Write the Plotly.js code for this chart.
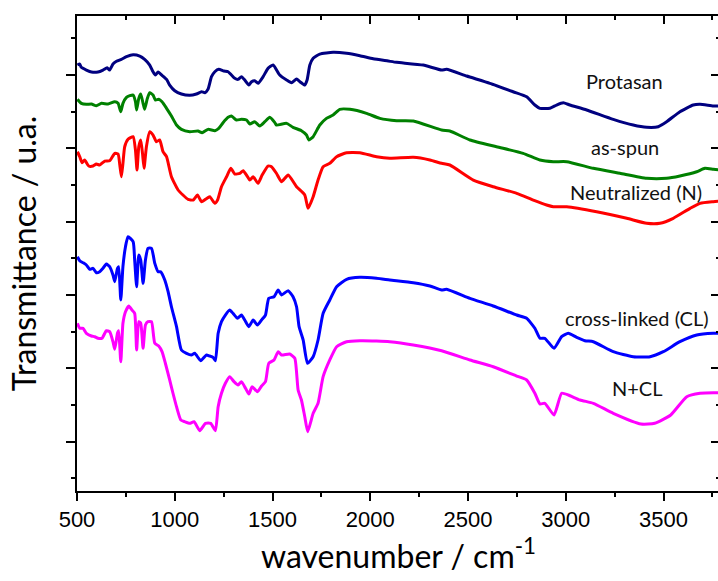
<!DOCTYPE html>
<html>
<head>
<meta charset="utf-8">
<script src="https://cdn.plot.ly/plotly-3.0.1.min.js"></script>
<style>
html,body{margin:0;padding:0;background:#fff;overflow:hidden;width:718px;height:581px;}
#chart{width:722px;height:581px;}
</style>
</head>
<body>
<div id="chart"></div>
<script>
// ---- data (wavenumber in cm^-1, transmittance in arbitrary offset units) ----
const protasanX = [502,514,522,548,574,607,633,654,667,684,702,727,753,787,821,846,872,889,901,915,935,958,974,1000,1034,1077,1111,1137,1154,1170,1188,1205,1225,1251,1273,1290,1307,1324,1341,1358,1379,1393,1409,1426,1452,1477,1503,1537,1572,1597,1623,1640,1665,1677,1691,1708,1742,1810,1879,1947,2015,2092,2135,2271,2365,2390,2493,2612,2731,2800,2842,2868,2919,2953,2987,3021,3107,3243,3345,3414,3473,3516,3584,3652,3687,3755,3789];
const protasanY = [61.36,61.5,61.05,60.68,60.41,60.41,60.68,61.0,60.68,61.5,61.87,62.14,62.5,62.77,62.59,62.14,61.36,60.45,60.0,60.41,59.96,59.41,58.63,57.86,57.41,57.23,57.41,57.72,57.59,58.05,59.77,60.45,60.78,60.54,60.45,60.0,59.55,59.41,59.77,59.32,58.63,59.09,59.22,58.87,59.77,60.91,61.36,60.0,59.32,58.95,59.45,59.09,58.63,59.32,61.36,62.28,62.86,63.09,62.96,62.63,62.22,61.91,61.73,61.36,60.68,60.78,59.86,58.87,57.72,57.04,55.91,55.46,55.46,55.91,56.22,55.91,55.23,53.96,53.18,52.87,52.95,53.63,55.0,55.91,56.0,55.77,55.77];

const asSpunX = [502,522,548,574,599,625,659,693,710,724,735,753,770,787,799,805,816,826,838,846,860,872,889,901,918,935,958,983,1009,1034,1077,1119,1140,1170,1205,1225,1247,1273,1290,1316,1341,1367,1384,1409,1435,1461,1486,1512,1520,1572,1605,1648,1674,1686,1708,1742,1776,1810,1844,1896,1981,2049,2135,2220,2365,2407,2510,2646,2782,2868,2936,3005,3141,3277,3414,3516,3584,3670,3712,3755,3789];
const asSpunY = [56.69,56.14,56.0,56.05,55.81,56.14,56.05,56.36,56.14,55.0,56.14,56.96,57.18,57.27,56.36,55.23,56.82,57.41,56.14,55.32,56.82,57.59,57.27,56.59,56.69,56.36,55.46,54.41,53.18,52.59,52.27,52.36,52.13,52.59,52.41,52.73,53.5,54.23,54.41,53.86,53.96,53.86,53.32,53.63,53.05,53.63,54.23,53.5,53.18,53.41,52.87,52.41,51.82,51.14,51.59,53.18,54.09,54.55,55.32,55.32,54.77,54.09,53.77,53.73,52.5,52.36,51.14,50.22,49.32,48.41,48.18,48.18,47.28,46.6,45.91,45.91,46.23,46.81,47.28,47.14,47.05];

const neutralX = [502,514,526,539,560,582,599,616,642,667,693,710,719,727,735,744,761,787,799,807,816,826,835,843,855,872,889,906,923,940,958,983,1017,1042,1068,1094,1116,1137,1157,1179,1205,1219,1239,1265,1287,1307,1333,1350,1367,1384,1401,1426,1447,1477,1495,1520,1546,1580,1623,1665,1682,1708,1733,1759,1793,1828,1879,1947,2032,2100,2220,2305,2365,2407,2527,2629,2749,2834,2902,2936,3005,3158,3312,3414,3482,3550,3636,3687,3755,3789];
const neutralY = [49.54,48.86,48.04,48.41,47.59,47.59,47.86,47.73,48.27,48.31,49.32,49.23,47.73,46.13,47.96,50.22,51.23,51.59,49.77,47.05,50.22,51.14,49.32,47.28,50.22,52.27,51.82,50.9,51.14,49.54,48.86,46.13,44.32,43.64,43.05,42.95,43.64,42.72,43.05,43.4,42.5,42.95,44.77,46.13,47.28,46.5,46.6,46.95,46.36,45.68,46.13,45.23,46.36,47.59,47.5,46.6,45.45,46.36,44.77,43.64,41.82,43.4,45.68,47.5,47.96,48.86,49.4,49.4,48.86,48.64,48.77,48.41,47.96,47.73,45.68,44.77,43.87,42.95,42.27,42.04,42.04,41.36,40.46,39.78,39.78,40.46,41.82,42.5,42.72,42.8];

const crossX = [502,514,531,548,565,582,599,616,633,650,667,684,693,707,713,724,735,748,761,787,795,805,816,826,838,850,863,881,898,915,928,949,966,983,1009,1034,1060,1085,1102,1133,1162,1179,1196,1208,1222,1239,1259,1281,1298,1321,1341,1358,1379,1401,1423,1444,1464,1481,1508,1529,1546,1580,1605,1623,1636,1657,1679,1708,1733,1759,1793,1828,1879,1947,2032,2100,2220,2305,2365,2390,2510,2629,2749,2800,2842,2868,2893,2940,2979,3013,3056,3098,3141,3243,3345,3431,3499,3584,3670,3755,3789];
const crossY = [35.22,34.68,34.4,34.09,33.5,33.64,33.04,33.18,33.64,34.23,33.86,32.73,31.81,33.64,33.86,29.32,33.86,36.59,37.95,37.27,34.77,31.13,35.45,34.77,31.59,34.77,36.37,36.37,34.32,33.18,33.18,32.05,30.45,28.4,25.68,22.5,22.05,21.82,22.05,21.04,21.82,21.68,21.5,21.04,24.78,26.36,27.27,27.95,27.5,26.82,27.27,26.59,25.68,26.59,25.91,26.59,27.27,29.55,29.77,30.68,30.0,30.59,29.77,28.4,25.68,23.86,20.69,21.59,23.86,27.5,29.32,31.13,32.14,32.41,32.28,32.05,31.68,31.23,30.68,30.78,29.55,28.5,27.27,26.82,25.46,24.1,24.1,22.73,24.31,24.78,24.23,23.77,23.63,22.27,21.59,21.59,22.27,23.63,24.55,24.78,24.78];

const nclX = [502,514,531,548,574,591,607,628,650,667,684,693,707,713,724,735,748,765,781,795,805,816,826,838,850,863,881,898,918,935,952,974,991,1009,1031,1051,1077,1099,1128,1157,1184,1208,1222,1239,1259,1281,1303,1324,1341,1362,1379,1396,1423,1444,1464,1481,1508,1529,1546,1588,1614,1631,1648,1665,1680,1708,1733,1759,1793,1828,1879,1947,2032,2100,2220,2365,2510,2629,2749,2800,2842,2868,2893,2940,2979,3013,3073,3141,3243,3385,3455,3537,3619,3687,3755,3789];
const nclY = [26.14,25.46,25.46,24.78,24.41,24.31,24.1,24.1,25.13,25.0,23.63,22.59,24.78,25.13,20.9,26.14,27.72,28.5,27.95,27.5,22.5,26.36,26.14,22.73,25.91,26.36,26.36,23.41,23.05,22.27,20.69,18.41,16.6,14.77,12.95,12.72,12.5,12.72,11.5,12.5,12.5,11.5,14.77,16.6,17.96,18.86,18.18,17.73,18.18,17.28,16.5,17.5,16.81,17.59,18.18,20.69,21.14,22.27,21.82,21.95,21.37,17.05,15.68,13.4,11.36,13.87,15.23,18.86,21.14,22.95,23.63,23.77,23.73,23.63,23.18,22.4,21.14,20.22,18.95,18.41,16.6,15.14,15.23,13.64,16.6,16.36,15.68,15.23,13.87,12.41,12.5,13.64,16.13,16.6,16.68,16.64];

const seriesNames = ["Protasan","as-spun","Neutralized (N)","cross-linked (CL)","N+CL"];
const seriesColors = ["#000080","#008000","#ff0000","#0000ff","#ff00ff"];
const xTickVals = [500,1000,1500,2000,2500,3000,3500];
const xTickText = ["500","1000","1500","2000","2500","3000","3500"];

const xs = [protasanX, asSpunX, neutralX, crossX, nclX];
const ys = [protasanY, asSpunY, neutralY, crossY, nclY];

const traces = xs.map((x, i) => ({
  x: x, y: ys[i], type: 'scatter', mode: 'lines', name: seriesNames[i],
  line: {color: seriesColors[i], width: 3, shape: 'spline', smoothing: 0.5},
  hoverinfo: 'x+y+name'
}));
// invisible helper trace so the mirrored (top/right) axes are drawn
traces.push({x: [], y: [], xaxis: 'x2', yaxis: 'y2', type: 'scatter', mode: 'lines', showlegend: false, hoverinfo: 'skip'});

const XR = [500, 3789];
const YR = [3.27, 68.05];
const labelFont = {family: 'Lato, "Open Sans", sans-serif', size: 20, color: '#111'};

// label anchor positions (data coords)
const labelX = [3303, 3305, 3359, 3364, 3367];
const labelY = [59.2, 50.2, 44.0, 26.9, 17.3];

const annotations = seriesNames.map((t, i) => ({
  x: labelX[i], y: labelY[i], xref: 'x', yref: 'y', text: t, showarrow: false,
  font: labelFont, xanchor: 'center', yanchor: 'middle'
}));

const axisCommon = {showgrid: false, zeroline: false, showline: true, linecolor: '#000', linewidth: 2, tickcolor: '#000', tickwidth: 2};

const layout = {
  width: 722, height: 581,
  margin: {l: 77, r: 2, t: 16, b: 90},
  paper_bgcolor: '#fff', plot_bgcolor: '#fff',
  showlegend: false,
  xaxis: Object.assign({}, axisCommon, {
    range: XR, tickmode: 'array', tickvals: xTickVals, ticktext: xTickText,
    ticks: 'outside', ticklen: 8,
    minor: {dtick: 250, tick0: 500, ticks: 'outside', ticklen: 4, tickwidth: 2, tickcolor: '#000', showgrid: false},
    tickfont: {family: '"Liberation Sans", Arial, sans-serif', size: 22, color: '#000'},
    title: {text: 'wavenumber / cm<sup>-1</sup>', font: {family: 'Lato, "Open Sans", sans-serif', size: 32, color: '#000'}, standoff: 14}
  }),
  xaxis2: Object.assign({}, axisCommon, {
    range: XR, overlaying: 'x', side: 'top', anchor: 'y', showticklabels: false,
    tickmode: 'linear', tick0: 500, dtick: 500, ticks: 'inside', ticklen: 8,
    minor: {dtick: 250, tick0: 500, ticks: 'inside', ticklen: 4, tickwidth: 2, tickcolor: '#000', showgrid: false}
  }),
  yaxis: Object.assign({}, axisCommon, {
    range: YR, tickmode: 'linear', tick0: 0, dtick: 10, ticks: 'outside', ticklen: 9,
    showticklabels: false,
    minor: {dtick: 5, tick0: 0, ticks: 'outside', ticklen: 4, tickwidth: 2, tickcolor: '#000', showgrid: false},
    title: {text: 'Transmittance / u.a.', font: {family: 'Lato, "Open Sans", sans-serif', size: 32, color: '#000'}, standoff: 20}
  }),
  yaxis2: Object.assign({}, axisCommon, {
    range: YR, overlaying: 'y', side: 'right', anchor: 'x', showticklabels: false,
    tickmode: 'linear', tick0: 0, dtick: 10, ticks: 'inside', ticklen: 9,
    minor: {dtick: 5, tick0: 0, ticks: 'inside', ticklen: 4, tickwidth: 2, tickcolor: '#000', showgrid: false}
  }),
  annotations: annotations
};

Plotly.newPlot('chart', traces, layout, {staticPlot: true, displayModeBar: false});
</script>
</body>
</html>
